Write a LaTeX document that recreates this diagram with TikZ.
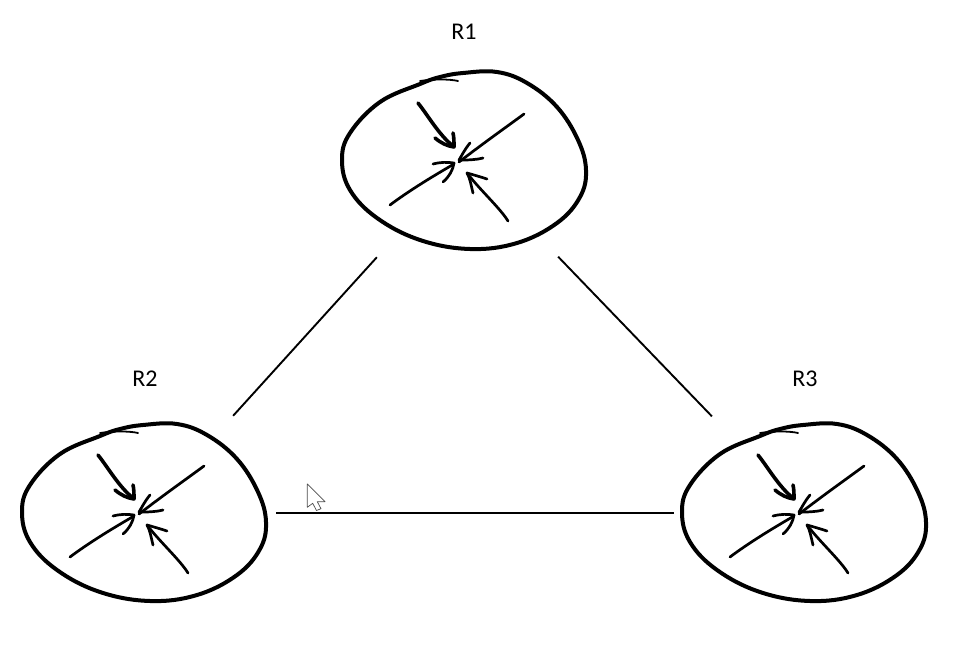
\documentclass[tikz,border=0pt]{standalone}
\usepackage{fontspec}
\setmainfont{Carlito}
\begin{document}
\begin{tikzpicture}[
    x=1pt,y=-1pt,
    routerspot/.style={circle,minimum size=262pt,inner sep=0pt},
    lbl/.style={font=\fontsize{24}{26}\selectfont,text=black,inner sep=0pt},
    link/.style={line width=1.9pt,black},
    ink/.style={line cap=round,line join=round,line width=2.6pt},
    router/.pic={
      % Outline
      \draw[ink,line width=4pt] plot[smooth cycle,tension=0.65] coordinates {
        (-45,-76) (-85,-58) (-115,-27) (-123,0) (-115,30) (-88,58) (-45,80) (5,89)
        (52,83) (92,63) (115,37) (121,10) (113,-20) (92,-53) (62,-77) (32,-88) (-2,-87) (-25,-83)};
      \draw[ink,line width=1.8pt] (-45,-79) .. controls (-32,-81) and (-15,-81) .. (-7,-79);
      % Inward arrows
      \draw[ink,line width=3.6pt] (-47,-57) .. controls (-38,-46) and (-26,-25) .. (-12,-14);
      \draw[ink,line width=3.6pt] (-30,-22) .. controls (-24,-17) and (-18,-14) .. (-11,-13) .. controls (-11,-18) and (-11,-23) .. (-12,-27);
      \draw[ink,line width=2.7pt] (59,-46) .. controls (40,-32) and (20,-18) .. (-6,2);
      \draw[ink,line width=2.7pt] (5,-17) .. controls (0,-11) and (-3,-5) .. (-6,0) .. controls (3,0) and (10,0) .. (18,-2);
      \draw[ink,line width=2.7pt] (-75,45) .. controls (-55,30) and (-30,15) .. (-11,4);
      \draw[ink,line width=2.7pt] (-32,4) .. controls (-24,2) and (-18,2) .. (-11,3) .. controls (-12,10) and (-16,17) .. (-22,22);
      \draw[ink,line width=2.7pt] (43,61) .. controls (35,48) and (15,30) .. (2,13);
      \draw[ink,line width=2.7pt] (8,33) .. controls (6,25) and (5,18) .. (2,13) .. controls (9,15) and (16,17) .. (22,19);
    }
]
  \useasboundingbox (0,0) rectangle (954,670);

  % Routers
  \node[routerspot] (r1) at (465,160) {};
  \node[routerspot] (r2) at (145,513) {};
  \node[routerspot] (r3) at (805,513) {};
  \pic at (465,160) {router};
  \pic at (145,512) {router};
  \pic at (805,512) {router};

  % Labels
  \node[lbl] (lblr1) at (464,32) {R1};
  \node[lbl] (lblr2) at (145,379) {R2};
  \node[lbl] (lblr3) at (805,379) {R3};

  % Links
  \draw[link] (r1) -- (r2);
  \draw[link,shorten <=3pt,shorten >=3pt] (r1) -- (r3);
  \draw[link] (r2) -- (r3);

  % Mouse pointer
  \draw[fill=white,draw=black!70,line width=0.7pt,line join=round] (307.3,484) -- (307.3,507.3) -- (312.7,503.3)
    -- (316.5,510.5) -- (321,508.7) -- (317.3,501.7) -- (325,501.7) -- cycle;
\end{tikzpicture}
\end{document}
